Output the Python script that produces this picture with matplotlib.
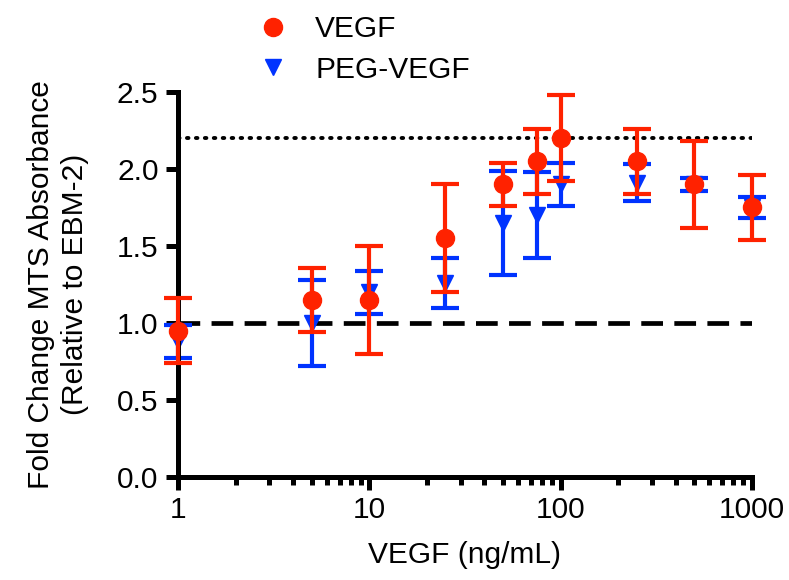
import numpy as np, matplotlib
matplotlib.use("Agg")
import matplotlib.pyplot as plt
from matplotlib.lines import Line2D
from matplotlib.ticker import LogLocator, NullFormatter

plt.rcParams.update({"font.family": ["Liberation Sans", "DejaVu Sans"], "font.size": 21.5})

# concentrations (ng/mL)
dose = [1, 5, 10, 25, 50, 75, 100, 250, 500, 1000]

vegf_mean = [0.95, 1.15, 1.15, 1.55, 1.90, 2.05, 2.20, 2.05, 1.90, 1.75]
vegf_sd   = [0.21, 0.21, 0.35, 0.35, 0.14, 0.21, 0.28, 0.21, 0.28, 0.21]

peg_mean = [0.88, 1.00, 1.20, 1.26, 1.65, 1.70, 1.90, 1.91, 1.90, 1.75]
peg_sd   = [0.11, 0.28, 0.14, 0.165, 0.34, 0.28, 0.14, 0.12, 0.04, 0.07]

RED, BLUE = "#FF2200", "#0033FF"

fig = plt.figure(figsize=(7.89, 5.80), dpi=100)
ax = fig.add_axes([0.2256, 0.1776, 0.7274, 0.6638])

ax.plot([1, 1000], [2.2, 2.2], color="black", lw=2.8, ls=(0, (0.4, 1.9)),
        dash_capstyle="round", zorder=1)
ax.plot([1, 1000], [1.0, 1.0], color="black", lw=3.4, ls=(0, (4.6, 2.4)), zorder=1)

ax.errorbar(dose, peg_mean, yerr=peg_sd, fmt="v", color=BLUE, ms=12,
            elinewidth=3, capsize=10, capthick=3, zorder=2, clip_on=False)
ax.errorbar(dose, vegf_mean, yerr=vegf_sd, fmt="o", color=RED, ms=13,
            elinewidth=3, capsize=10, capthick=3, zorder=3, clip_on=False)

ax.set_xscale("log")
ax.set_xlim(1, 1000)
ax.set_ylim(0, 2.5)
ax.set_xticks([1, 10, 100, 1000])
ax.set_xticklabels(["1", "10", "100", "1000"])
ax.xaxis.set_minor_locator(LogLocator(base=10, subs=np.arange(2, 10)))
ax.xaxis.set_minor_formatter(NullFormatter())
ax.set_yticks([0, 0.5, 1.0, 1.5, 2.0, 2.5])
ax.set_yticklabels(["0.0", "0.5", "1.0", "1.5", "2.0", "2.5"])

for s in ["top", "right"]:
    ax.spines[s].set_visible(False)
for s in ["left", "bottom"]:
    ax.spines[s].set_linewidth(3.6)
ax.tick_params(which="major", length=9, width=3.6, direction="out", pad=5)
ax.tick_params(which="minor", length=6, width=3.6, direction="out")

ax.set_xlabel("VEGF (ng/mL)", labelpad=12)
ax.set_ylabel("Fold Change MTS Absorbance\n(Relative to EBM-2)", labelpad=20,
              linespacing=1.3)

handles = [Line2D([], [], ls="none", marker="o", color=RED, ms=13),
           Line2D([], [], ls="none", marker="v", color=BLUE, ms=12)]
fig.legend(handles, ["VEGF", "PEG-VEGF"], loc="upper left",
           bbox_to_anchor=(0.284, 1.02), frameon=False, handletextpad=0.65,
           labelspacing=0.42, handlelength=1.5)

fig.savefig("out.png", dpi=100)
